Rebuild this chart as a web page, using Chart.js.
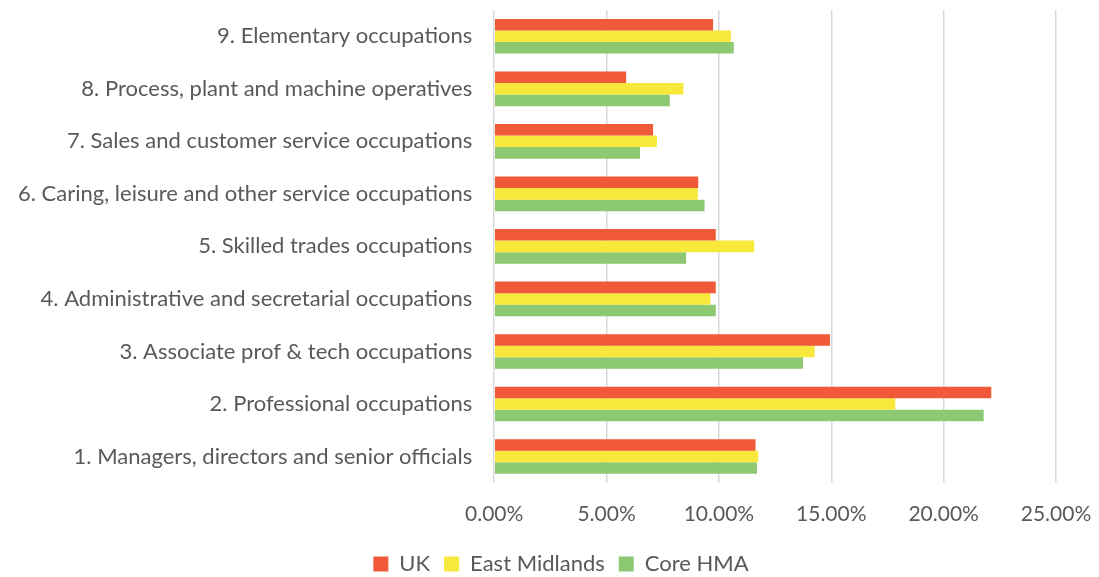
<!DOCTYPE html>
<html>
<head>
<meta charset="utf-8">
<script src="https://cdn.jsdelivr.net/npm/chart.js@4"></script>
<style>
  html, body { margin: 0; padding: 0; background: #fff; }
  #wrap { width: 1099px; height: 577px; position: relative; }
</style>
</head>
<body>
<div id="wrap"><canvas id="myChart"></canvas></div>
<script>
const categories = [
  "9. Elementary occupations",
  "8. Process, plant and machine operatives",
  "7. Sales and customer service occupations",
  "6. Caring, leisure and other service occupations",
  "5. Skilled trades occupations",
  "4. Administrative and secretarial occupations",
  "3. Associate prof & tech occupations",
  "2. Professional occupations",
  "1. Managers, directors and senior officials",
];
const ukValues = [9.74, 5.87, 7.07, 9.08, 9.86, 9.86, 14.94, 22.12, 11.63];
const eastMidlandsValues = [10.53, 8.42, 7.24, 9.06, 11.57, 9.62, 14.26, 17.85, 11.75];
const coreHmaValues = [10.66, 7.81, 6.49, 9.36, 8.54, 9.86, 13.74, 21.78, 11.69];
const xTicks = [0, 5, 10, 15, 20, 25];

const chart = document.getElementById("myChart");

// the label padding otherwise pushes the plot down from the top
const noEdgePadding = (axis) => {
  axis.paddingTop = 0;
  axis.paddingBottom = 0;
  axis.paddingLeft = 0;
  axis.paddingRight = 0;
};

// legend sits a bit right of the canvas centre in the original
const shiftLegend = {
  id: "shiftLegend",
  afterLayout(c) {
    c.legend.left += 33;
    c.legend.right += 33;
  },
};

const config = {
  type: "bar",
  data: {
    labels: categories,
    datasets: [
      { label: "UK", data: ukValues, backgroundColor: "#F05A38" },
      { label: "East Midlands", data: eastMidlandsValues, backgroundColor: "#F8E83C" },
      { label: "Core HMA", data: coreHmaValues, backgroundColor: "#8DC872" },
    ],
  },
  options: {
    indexAxis: "y",
    responsive: true,
    maintainAspectRatio: false,
    animation: false,
    layout: { padding: { left: 0, right: 43, top: 10, bottom: -8 } },
    datasets: {
      bar: { categoryPercentage: 0.66, barPercentage: 1.0 },
    },
    scales: {
      x: {
        min: 0,
        max: 25,
        afterBuildTicks: (axis) => {
          axis.ticks = xTicks.map((v) => ({ value: v }));
        },
        afterFit: (axis) => {
          noEdgePadding(axis);
          axis.height -= 7;
        },
        ticks: {
          color: "#595959",
          font: { family: "Lato", size: 21 },
          padding: 19,
          callback: (v) => v.toFixed(2) + "%",
        },
        grid: { color: "#D9D9D9", lineWidth: 1.5, drawTicks: false },
        border: { display: false },
      },
      y: {
        afterFit: (axis) => {
          noEdgePadding(axis);
          axis.width -= 4;
        },
        ticks: {
          color: "#595959",
          font: { family: "Lato", size: 22 },
          padding: 22,
        },
        grid: { display: false, drawTicks: false },
        border: { display: false },
      },
    },
    plugins: {
      legend: {
        position: "bottom",
        labels: {
          color: "#595959",
          font: { family: "Lato", size: 22 },
          boxWidth: 15,
          boxHeight: 15,
          padding: 14,
        },
      },
      tooltip: { enabled: false },
    },
  },
  plugins: [shiftLegend],
};

window.myChart = new Chart(chart, config);
</script>
</body>
</html>
